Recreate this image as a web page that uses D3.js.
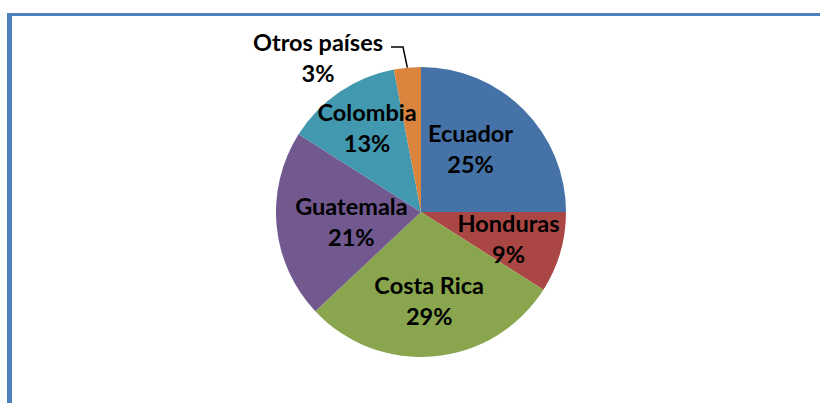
<!DOCTYPE html>
<html>
<head>
<meta charset="utf-8">
<script src="https://cdn.jsdelivr.net/npm/d3@7"></script>
<style>
  html, body { margin: 0; padding: 0; background: #fff; }
  svg { display: block; }
  text { font-family: Lato, "Open Sans", sans-serif; font-weight: 700; fill: #000; }
</style>
</head>
<body>
<svg id="chart" width="820" height="403"></svg>
<script>
// Export share by country of origin (percent)
const countries = ["Ecuador", "Honduras", "Costa Rica", "Guatemala", "Colombia", "Otros países"];
const shares = [25, 9, 29, 21, 13, 3];
const sliceColors = ["#4572A7", "#AA4643", "#89A54E", "#71588F", "#4198AF", "#DB843D"];

// Label placement: nudges from the slice centroid (inside labels) or absolute
// block centre for the outside label with its leader line.
const labelNudge = [[-12, -1], [4, 3], [0, 2], [17, 2], [-5, -12], null];
const outsideLabel = { x: 318, y: 58, elbow: [[391, 47], [403, 47]] };

const W = 820, H = 403;
const cx = 421, cy = 212, R = 145;
const fontSize = 23.5, lineGap = 31;

const svg = d3.select("#chart");

// frame
svg.append("rect")
  .attr("x", 9.5).attr("y", 14.5)
  .attr("width", W + 20).attr("height", H + 20)
  .attr("fill", "none")
  .attr("stroke", "#4F81BD")
  .attr("stroke-width", 3);
svg.append("line")
  .attr("x1", 9.5).attr("x2", 9.5).attr("y1", 13).attr("y2", H)
  .attr("stroke", "#4F81BD").attr("stroke-width", 5);

const data = countries.map((c, i) => ({ name: c, value: shares[i], color: sliceColors[i], idx: i }));

const pie = d3.pie().value(d => d.value).sort(null);
const arcs = pie(data);
const arc = d3.arc().innerRadius(0).outerRadius(R);
const labelArc = d3.arc().innerRadius(R * 0.6).outerRadius(R * 0.6);

const g = svg.append("g").attr("transform", `translate(${cx},${cy})`);

g.selectAll("path.slice")
  .data(arcs)
  .join("path")
  .attr("class", "slice")
  .attr("d", arc)
  .attr("fill", d => d.data.color);

// labels
const labels = svg.append("g").style("font-size", fontSize + "px");

arcs.forEach(a => {
  let x, y;
  const nudge = labelNudge[a.data.idx];
  if (nudge) {
    const c = labelArc.centroid(a);
    x = cx + c[0] + nudge[0];
    y = cy + c[1] + nudge[1];
  } else {
    x = outsideLabel.x;
    y = outsideLabel.y;
    // leader line ending on the arc midpoint
    const mid = (a.startAngle + a.endAngle) / 2;
    const end = [cx + R * Math.sin(mid), cy - R * Math.cos(mid)];
    const pts = outsideLabel.elbow.concat([end]);
    svg.append("path")
      .attr("d", d3.line()(pts))
      .attr("fill", "none")
      .attr("stroke", "#000")
      .attr("stroke-width", 1.5);
  }
  const capHalf = 8.5;
  const t = labels.append("text").attr("text-anchor", "middle");
  t.append("tspan").attr("x", x).attr("y", y + capHalf - lineGap / 2).text(a.data.name);
  t.append("tspan").attr("x", x).attr("y", y + capHalf + lineGap / 2).text(a.data.value + "%");
});
</script>
</body>
</html>
